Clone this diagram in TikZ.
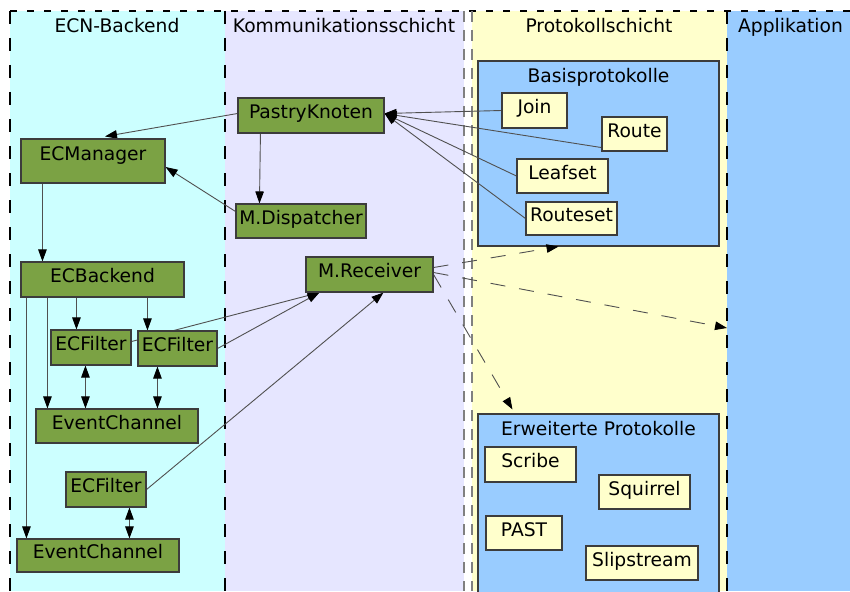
\documentclass[tikz,border=0pt]{standalone}
\usepackage{fontspec}
\setmainfont{DejaVu Sans}
\usetikzlibrary{arrows.meta,calc}

\pgfdeclarelayer{bg}
\pgfdeclarelayer{grp}
\pgfdeclarelayer{edges}
\pgfsetlayers{bg,grp,edges,main}

\definecolor{colcyan}{HTML}{CCFFFF}
\definecolor{collav}{HTML}{E6E6FF}
\definecolor{colyel}{HTML}{FFFFCC}
\definecolor{colblue}{HTML}{99CCFF}
\definecolor{compgreen}{HTML}{7BA244}
\definecolor{frame}{HTML}{3C3C3C}
\definecolor{wirecol}{HTML}{505050}
\definecolor{sepgray}{HTML}{808080}

\begin{document}
\begin{tikzpicture}[x=1pt,y=-1pt,
  every node/.style={font=\fontsize{18.7pt}{22pt}\selectfont},
  box/.style={draw=frame, line width=1.1pt, inner sep=0pt,
              text height=13.6pt, text depth=7pt},
  comp/.style={box, fill=compgreen},
  proto/.style={box, fill=colyel},
  group/.style={draw=frame, line width=1.1pt, fill=colblue, inner sep=0pt},
  wire/.style={draw=wirecol, line width=0.9pt},
  tip/.style={-{Triangle[length=12pt,width=8.5pt,color=black]}},
  tips/.style={{Triangle[length=12pt,width=8.5pt,color=black]}-{Triangle[length=12pt,width=8.5pt,color=black]}},
  async/.style={wire, dash pattern=on 15pt off 14pt},
  colline/.style={line width=1.1pt, dash pattern=on 13pt off 14pt},
  title/.style={anchor=base}
]
\useasboundingbox (0,0) rectangle (850,591);

% ---- layer columns ----
\begin{pgfonlayer}{bg}
  \fill[white] (0,0) rectangle (850,591);
  \fill[colcyan] (10,11) rectangle (225,591);
  \fill[collav]  (225,11) rectangle (464,591);
  \fill[colyel]  (472,11) rectangle (727,591);
  \fill[colblue] (727,11) rectangle (850,591);
  \draw[colline, dash pattern=on 7pt off 10pt] (10,11) -- (850,11);
  \draw[colline] (10,11) -- (10,591);
  \draw[colline] (225,11) -- (225,591);
  \draw[colline, draw=sepgray, line width=1.2pt, dash pattern=on 11pt off 8pt] (464,11) -- (464,591);
  \draw[colline, draw=sepgray, line width=1.2pt, dash pattern=on 11pt off 8pt] (472,11) -- (472,591);
  \draw[colline] (727,11) -- (727,591);
\end{pgfonlayer}

% ---- column titles ----
\node[title] (tEcn)  at (117,32.3)   {ECN-Backend};
\node[title] (tKom)  at (344,32.3)   {Kommunikationsschicht};
\node[title] (tProt) at (599,32.3)   {Protokollschicht};
\node[title] (tApp)  at (790.5,32.3) {Applikation};

% ---- protocol groups ----
\begin{pgfonlayer}{grp}
  \node[group, minimum width=241pt, minimum height=185pt] (basis) at (598.5,153.5) {};
  \node[group, minimum width=241pt, minimum height=186pt] (erw)   at (598.5,507) {};
\end{pgfonlayer}
\node[title] (tBasis) at (598.5,82.3) {Basisprotokolle};
\node[title] (tErw)   at (598.5,435)  {Erweiterte Protokolle};

% ---- base protocols ----
\node[proto, minimum width=65pt, minimum height=35pt] (join)     at (534.5,110.5) {Join};
\node[proto, minimum width=65pt, minimum height=34pt] (route)    at (634.5,134)   {Route};
\node[proto, minimum width=91pt, minimum height=34pt] (leafset)  at (562.5,176)   {Leafset};
\node[proto, minimum width=91pt, minimum height=33pt] (routeset) at (571.5,218.5) {Routeset};

% ---- extended protocols ----
\node[proto, minimum width=91pt,  minimum height=35pt] (scribe)   at (530.5,464.5) {Scribe};
\node[proto, minimum width=91pt,  minimum height=34pt] (squirrel) at (644.5,492)   {Squirrel};
\node[proto, minimum width=76pt,  minimum height=34pt] (past)     at (524,533)     {PAST};
\node[proto, minimum width=112pt, minimum height=34pt] (slip)     at (642,563)     {Slipstream};

% ---- communication layer ----
\node[comp, minimum width=146pt, minimum height=35pt] (pk)   at (311,115.5) {PastryKnoten};
\node[comp, minimum width=130pt, minimum height=34pt] (disp) at (301,221)   {M.Dispatcher};
\node[comp, minimum width=127pt, minimum height=35pt] (recv) at (369.5,274.5) {M.Receiver};

% ---- ECN backend ----
\node[comp, minimum width=144pt, minimum height=44pt, text depth=15.6pt] (mgr) at (93,161) {ECManager};
\node[comp, minimum width=163pt, minimum height=35pt] (be)  at (102.5,279.5) {ECBackend};
\node[comp, minimum width=162pt, minimum height=34pt] (ev1) at (117,426)     {EventChannel};
\node[comp, minimum width=80pt,  minimum height=35pt] (f1)  at (91,347.5)    {ECFilter};
\node[comp, minimum width=79pt,  minimum height=35pt] (f2)  at (177.5,348.5) {ECFilter};
\node[comp, minimum width=80pt,  minimum height=35pt] (f3)  at (106,489.5)   {ECFilter};
\node[comp, minimum width=162pt, minimum height=33pt] (ev2) at (98,555.5)    {EventChannel};

\coordinate (appEdge) at (727,328);

% ---- connectors ----
\begin{pgfonlayer}{edges}
  % communication layer
  \draw[wire,tip] ($(pk.west)+(0,-2)$) -- ($(mgr.north)+(12,-2)$);
  \draw[wire,tip] ($(pk.south west)+(23,0)$) -- ($(disp.north west)+(24,0)$);
  \draw[wire,tip] ($(disp.north west)+(0,8)$) -- ($(mgr.east)+(0,6)$);
  % backend
  \draw[wire,tip] ($(mgr.south west)+(22,0)$) -- ($(be.north west)+(22,0)$);
  \draw[wire,tip] ($(be.south west)+(56,0)$) -- ($(f1.north west)+(26,0)$);
  \draw[wire,tip] ($(be.south west)+(127,0)$) -- ($(f2.north west)+(10,0)$);
  \draw[wire,tip] ($(be.south west)+(27,0)$) -- ($(ev1.north west)+(12,0)$);
  \draw[wire,tip] ($(be.south west)+(6,0)$) -- ($(ev2.north west)+(10,0)$);
  \draw[wire,tips] ($(f1.south west)+(35,0)$) -- ($(ev1.north west)+(50,0)$);
  \draw[wire,tips] ($(f2.south west)+(20,0)$) -- ($(ev1.north west)+(122,0)$);
  \draw[wire,tips] ($(f3.south west)+(64,0)$) -- ($(ev2.north west)+(113,0)$);
  % filters to receiver
  \draw[wire,tip] ($(f1.east)+(0,-6)$) -- ($(recv.south west)+(14,0)$);
  \draw[wire,tip] (f2.east) -- ($(recv.south west)+(14,0)$);
  \draw[wire,tip] (f3.east) -- ($(recv.south west)+(78,0)$);
  % base protocols to pastry node
  \draw[wire,tip] (join.west) -- ($(pk.east)+(0,-2)$);
  \draw[wire,tip] ($(route.south west)+(0,-4)$) -- ($(pk.east)+(0,-2)$);
  \draw[wire,tip] (leafset.west) -- ($(pk.east)+(0,-2)$);
  \draw[wire,tip] (routeset.west) -- ($(pk.east)+(0,-2)$);
  % receiver dispatch
  \draw[async,tip] ($(recv.east)+(0,-7)$) -- ($(basis.south)+(-40,0)$);
  \draw[async,tip] ($(recv.east)+(0,-2)$) -- (appEdge);
  \draw[async,tip] ($(recv.east)+(0,0)$) -- ($(erw.north west)+(35,-4)$);
\end{pgfonlayer}
\end{tikzpicture}
\end{document}
